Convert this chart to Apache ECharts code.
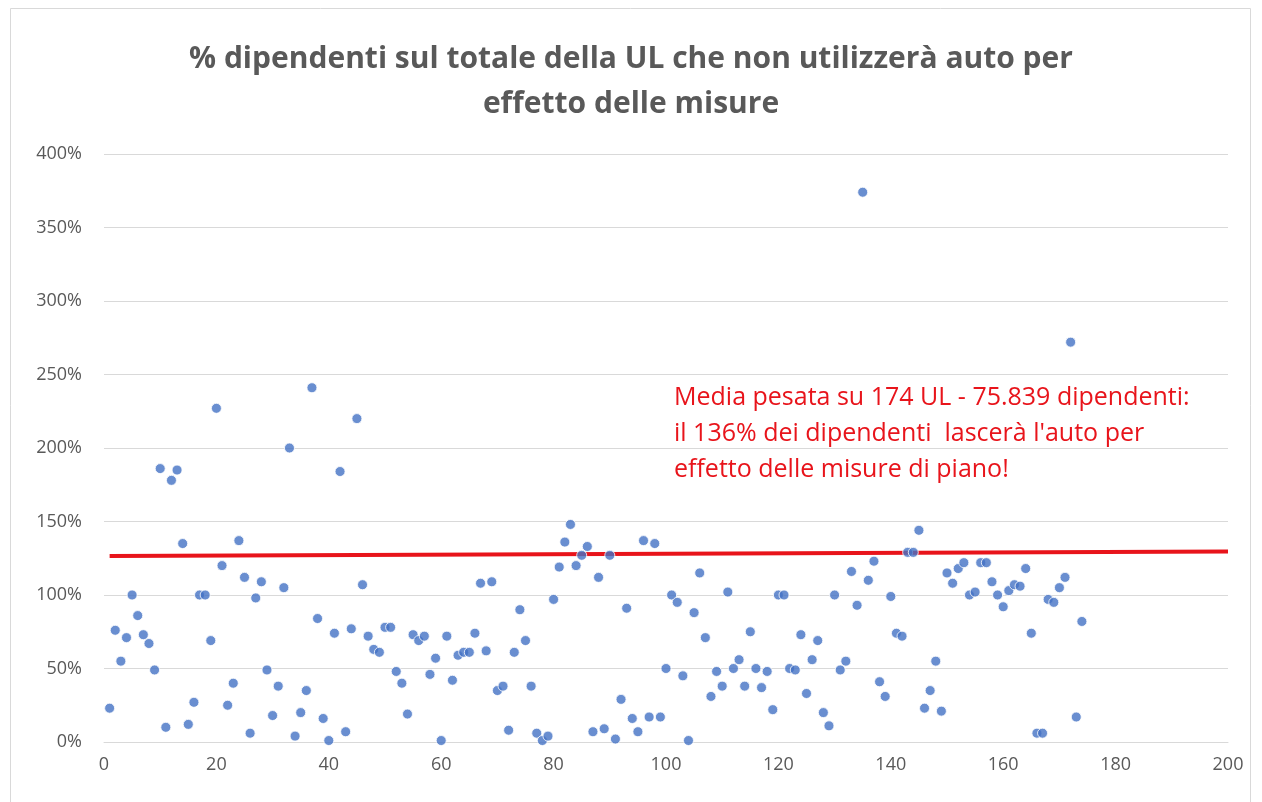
<!DOCTYPE html>
<html>
<head>
<meta charset="utf-8">
<script src="https://cdn.jsdelivr.net/npm/echarts@6/dist/echarts.min.js"></script>
<style>
  html, body { margin: 0; padding: 0; background: #fff; }
  #chart { width: 1262px; height: 802px; }
</style>
</head>
<body>
<div id="chart"></div>
<script>
// % of employees per UL (x = UL number 1..174)
const quote = [
  23, 76, 55, 71, 100, 86, 73, 67, 49, 186,
  10, 178, 185, 135, 12, 27, 100, 100, 69, 227,
  120, 25, 40, 137, 112, 6, 98, 109, 49, 18,
  38, 105, 200, 4, 20, 35, 241, 84, 16, 1,
  74, 184, 7, 77, 220, 107, 72, 63, 61, 78,
  78, 48, 40, 19, 73, 69, 72, 46, 57, 1,
  72, 42, 59, 61, 61, 74, 108, 62, 109, 35,
  38, 8, 61, 90, 69, 38, 6, 1, 4, 97,
  119, 136, 148, 120, 127, 133, 7, 112, 9, 127,
  2, 29, 91, 16, 7, 137, 17, 135, 17, 50,
  100, 95, 45, 1, 88, 115, 71, 31, 48, 38,
  102, 50, 56, 38, 75, 50, 37, 48, 22, 100,
  100, 50, 49, 73, 33, 56, 69, 20, 11, 100,
  49, 55, 116, 93, 374, 110, 123, 41, 31, 99,
  74, 72, 129, 129, 144, 23, 35, 55, 21, 115,
  108, 118, 122, 100, 102, 122, 122, 109, 100, 92,
  103, 107, 106, 118, 74, 6, 6, 97, 95, 105,
  112, 272, 17, 82
]
// weighted-average trend line ends
const trendX = [1, 200]
const trendY = [126.5, 129.6]

const yTicks = ['0%', '50%', '100%', '150%', '200%', '250%', '300%', '350%', '400%']

const titleLines = [
  '% dipendenti sul totale della UL che non utilizzerà auto per',
  'effetto delle misure'
]
const noteLines = [
  'Media pesata su 174 UL - 75.839 dipendenti:',
  'il 136% dei dipendenti  lascerà l\'auto per',
  'effetto delle misure di piano!'
]

const points = quote.map((v, i) => [i + 1, v])
const trend = trendX.map((x, i) => [x, trendY[i]])

const chart = echarts.init(document.getElementById('chart'))
chart.setOption({
  animation: false,
  backgroundColor: '#fff',
  textStyle: { fontFamily: 'Open Sans' },
  title: {
    text: titleLines.join('\n'),
    left: 'center',
    top: 32,
    textStyle: {
      fontFamily: 'Open Sans',
      fontSize: 30,
      fontWeight: 'bold',
      color: '#595959',
      lineHeight: 45
    }
  },
  grid: { left: 104, right: 34, top: 154, bottom: 60 },
  xAxis: {
    type: 'value',
    min: 0,
    max: 200,
    interval: 20,
    splitLine: { show: false },
    axisLine: { show: true, lineStyle: { color: '#d9d9d9', width: 1 } },
    axisTick: { show: false },
    axisLabel: { color: '#595959', fontSize: 18, margin: 14 }
  },
  yAxis: {
    type: 'value',
    min: 0,
    max: 400,
    interval: 50,
    axisLine: { show: false },
    axisTick: { show: false },
    splitLine: { lineStyle: { color: '#d9d9d9', width: 1 } },
    axisLabel: {
      color: '#595959',
      fontSize: 18,
      margin: 22,
      formatter: v => yTicks[Math.round(v / 50)]
    }
  },
  graphic: [
    {
      type: 'rect',
      shape: { x: 10.5, y: 8.5, width: 1240, height: 800 },
      style: { fill: 'none', stroke: '#d9d9d9', lineWidth: 1 },
      silent: true
    },
    {
      type: 'text',
      left: 674,
      top: 380,
      style: {
        text: noteLines.join('\n'),
        fill: '#e8141b',
        font: '25px "Open Sans"',
        lineHeight: 36
      }
    }
  ],
  series: [
    {
      type: 'scatter',
      data: points,
      symbolSize: 10,
      itemStyle: { color: '#4472c4', borderColor: '#fff', borderWidth: 1 },
      z: 3
    },
    {
      type: 'line',
      data: trend,
      symbol: 'none',
      lineStyle: { color: '#e8141b', width: 4 },
      z: 2
    }
  ]
})
</script>
</body>
</html>
